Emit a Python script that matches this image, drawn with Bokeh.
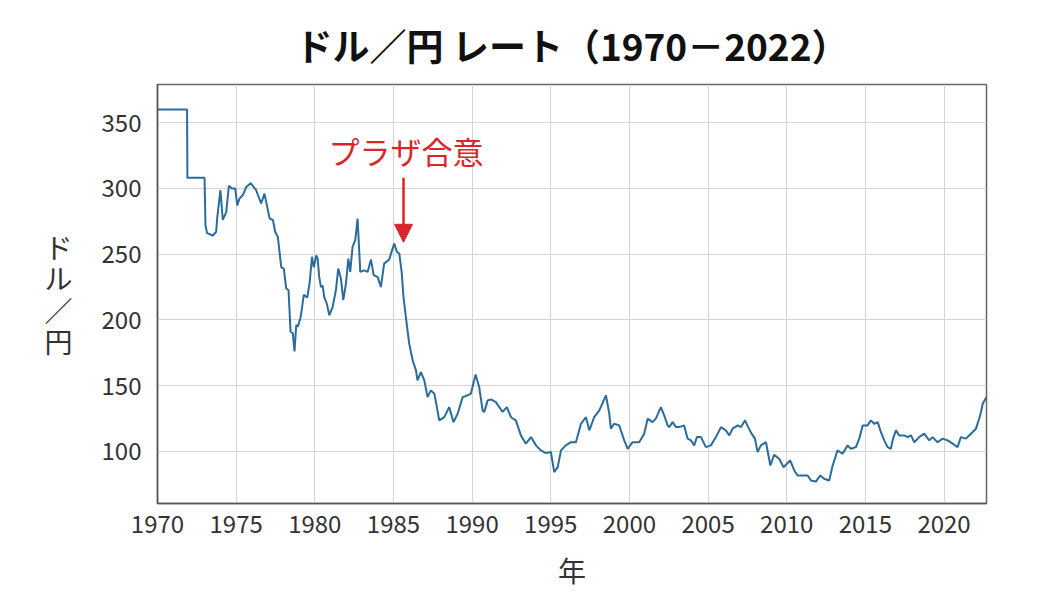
from bokeh.plotting import figure
from bokeh.models import Range1d, Label, Arrow, NormalHead, FixedTicker
from bokeh.embed import file_html
from bokeh.resources import INLINE

years = [1970.0, 1971.88, 1971.9, 1972.99, 1973.05, 1973.15, 1973.35, 1973.5, 1973.73, 1973.8,
         1974.0, 1974.15, 1974.37, 1974.54, 1974.73, 1974.94, 1975.07, 1975.2, 1975.43, 1975.64,
         1975.92, 1976.27, 1976.59, 1976.8, 1977.13, 1977.34, 1977.48, 1977.65, 1977.87, 1978.03,
         1978.18, 1978.33, 1978.46, 1978.6, 1978.71, 1978.82, 1978.93, 1979.1, 1979.3, 1979.52,
         1979.67, 1979.82, 1979.94, 1980.09, 1980.18, 1980.28, 1980.39, 1980.5, 1980.6, 1980.72,
         1980.77, 1980.92, 1981.13, 1981.34, 1981.49, 1981.66, 1981.81, 1981.98, 1982.13, 1982.25,
         1982.4, 1982.57, 1982.72, 1982.89, 1983.14, 1983.36, 1983.57, 1983.74, 1983.99, 1984.2,
         1984.41, 1984.73, 1984.88, 1985.05, 1985.22, 1985.37, 1985.52, 1985.64, 1985.79, 1986.0,
         1986.22, 1986.43, 1986.53, 1986.74, 1986.96, 1987.17, 1987.38, 1987.6, 1987.76, 1987.91,
         1988.23, 1988.54, 1988.82, 1989.08, 1989.4, 1989.71, 1989.92, 1990.22, 1990.45, 1990.67,
         1990.77, 1990.99, 1991.2, 1991.51, 1991.94, 1992.21, 1992.47, 1992.78, 1993.1, 1993.42,
         1993.74, 1994.06, 1994.37, 1994.69, 1995.01, 1995.22, 1995.44, 1995.65, 1995.96, 1996.28,
         1996.6, 1996.92, 1997.24, 1997.45, 1997.76, 1998.08, 1998.51, 1998.72, 1998.82, 1999.03,
         1999.35, 1999.67, 1999.89, 2000.2, 2000.62, 2000.94, 2001.16, 2001.47, 2001.68, 2002.0,
         2002.21, 2002.43, 2002.53, 2002.75, 2002.96, 2003.17, 2003.48, 2003.7, 2003.91, 2004.12,
         2004.29, 2004.55, 2004.86, 2005.18, 2005.5, 2005.82, 2006.13, 2006.35, 2006.56, 2006.88,
         2007.09, 2007.35, 2007.55, 2007.77, 2007.98, 2008.15, 2008.36, 2008.68, 2008.96, 2009.2,
         2009.52, 2009.8, 2010.01, 2010.22, 2010.48, 2010.69, 2011.11, 2011.33, 2011.54, 2011.86,
         2012.13, 2012.38, 2012.7, 2012.92, 2013.23, 2013.55, 2013.87, 2014.08, 2014.4, 2014.61,
         2014.83, 2015.14, 2015.35, 2015.56, 2015.78, 2015.99, 2016.2, 2016.41, 2016.62, 2016.73,
         2016.94, 2017.15, 2017.47, 2017.69, 2017.9, 2018.11, 2018.42, 2018.74, 2019.06, 2019.27,
         2019.59, 2019.91, 2020.23, 2020.55, 2020.86, 2021.07, 2021.39, 2021.71, 2022.03, 2022.24,
         2022.35, 2022.46, 2022.7]

rates = [360.0, 360.0, 308.0, 308.0, 272.0, 266.0, 265.0, 264.0, 267.0, 278.0,
         298.6, 276.0, 282.0, 302.0, 300.0, 300.0, 287.0, 292.0, 295.0, 301.0,
         304.0, 298.6, 288.5, 296.0, 277.0, 276.0, 267.0, 263.0, 240.0, 239.0,
         224.0, 222.5, 191.0, 190.0, 176.0, 196.0, 195.0, 202.0, 219.0, 217.0,
         228.0, 248.0, 240.0, 249.0, 246.6, 232.7, 225.0, 226.0, 217.4, 213.6,
         212.0, 203.5, 209.8, 222.5, 239.0, 231.4, 215.0, 227.6, 246.6, 236.5,
         255.5, 260.6, 277.0, 236.5, 237.7, 236.5, 245.9, 234.0, 232.7, 225.0,
         242.8, 246.0, 251.7, 258.0, 251.7, 250.5, 236.5, 217.4, 202.2, 182.0,
         169.3, 161.6, 154.0, 160.3, 154.0, 141.3, 146.4, 143.9, 133.7, 123.6,
         126.1, 133.7, 122.3, 128.6, 141.3, 142.6, 143.9, 158.5, 149.0, 131.0,
         129.9, 138.8, 139.5, 137.5, 130.0, 133.7, 126.0, 123.6, 112.2, 105.9,
         110.9, 104.6, 100.8, 98.7, 99.5, 84.3, 88.0, 100.8, 104.6, 107.0,
         107.0, 121.0, 126.0, 116.0, 126.0, 131.0, 142.6, 128.6, 117.3, 121.0,
         119.8, 108.4, 102.0, 107.0, 107.0, 113.5, 124.9, 122.3, 124.9, 133.7,
         127.4, 119.8, 118.5, 122.3, 118.5, 118.5, 119.8, 109.7, 108.4, 104.6,
         110.9, 110.9, 103.3, 104.6, 110.9, 118.5, 116.0, 112.2, 117.3, 119.8,
         118.5, 123.6, 118.5, 113.5, 109.7, 99.5, 104.6, 107.0, 89.3, 97.5,
         94.4, 88.0, 90.6, 93.2, 85.5, 81.7, 81.7, 81.7, 77.9, 77.2,
         81.7, 79.2, 77.9, 89.3, 100.8, 98.2, 104.6, 102.0, 103.3, 109.7,
         119.8, 119.8, 123.6, 121.0, 122.3, 114.7, 108.4, 103.3, 102.0, 108.4,
         116.0, 112.2, 112.2, 110.9, 112.2, 107.0, 110.9, 113.5, 108.4, 110.9,
         107.0, 109.7, 108.4, 105.9, 103.3, 110.9, 109.7, 113.5, 117.3, 125.0,
         130.0, 136.3, 141.3]

x_ticks = [1970, 1975, 1980, 1985, 1990, 1995, 2000, 2005, 2010, 2015, 2020]
y_ticks = [100, 150, 200, 250, 300, 350]

title_text = "ドル／円 レート（1970－2022）"
x_label = "年"
y_label = "ド\nル\n／\n円"
note_text = "プラザ合意"
plaza_year = 1985.64
note_y = 329
arrow_start = 308
arrow_end = 259

FONT = "Noto Sans CJK JP"
RED = "#d9262b"
LINE = "#2b6c9c"

p = figure(width=1030, height=591, output_backend="svg", toolbar_location=None,
           x_range=Range1d(1970, 2022.7), y_range=Range1d(60.4, 379),
           min_border_left=157, min_border_right=44, min_border_top=84, min_border_bottom=88,
           frame_width=829, frame_height=419)

p.title.text = title_text
p.title.text_font = FONT
p.title.text_font_size = "37px"
p.title.text_font_style = "bold"
p.title.text_color = "#111111"
p.title.align = "center"
p.title.standoff = 26

p.line(years, rates, line_color=LINE, line_width=2)

p.xaxis.ticker = FixedTicker(ticks=x_ticks)
p.yaxis.ticker = FixedTicker(ticks=y_ticks)
for ax in (p.xaxis, p.yaxis):
    ax.major_label_text_font = FONT
    ax.major_label_text_font_size = "24px"
    ax.major_label_text_color = "#333333"
    ax.major_tick_line_color = None
    ax.minor_tick_line_color = None
    ax.axis_line_color = "#555555"
    ax.axis_line_width = 1.5
    ax.axis_label_text_font = FONT
    ax.axis_label_text_font_size = "28px"
    ax.axis_label_text_font_style = "normal"
    ax.axis_label_text_color = "#333333"
p.xaxis.major_label_standoff = 5
p.yaxis.major_label_standoff = 10
p.xaxis.axis_label = x_label
p.xaxis.axis_label_standoff = 14

p.yaxis.axis_label = y_label
p.yaxis.axis_label_standoff = 26
p.yaxis.axis_label_orientation = "horizontal"
p.yaxis.axis_label_text_line_height = 0.79

p.grid.grid_line_color = "#d4d4d4"
p.grid.grid_line_width = 1
p.outline_line_color = "#666666"
p.outline_line_width = 1.5

p.add_layout(Label(x=1985.79, y=note_y, text=note_text, text_font=FONT,
                   text_font_size="31px", text_color=RED, text_align="center",
                   text_baseline="middle"))

p.add_layout(Arrow(end=NormalHead(size=18, fill_color=RED, line_color=RED),
                   x_start=plaza_year, y_start=arrow_start, x_end=plaza_year, y_end=arrow_end,
                   line_color=RED, line_width=2.5))

open("out.html", "w").write(file_html(p, INLINE))
